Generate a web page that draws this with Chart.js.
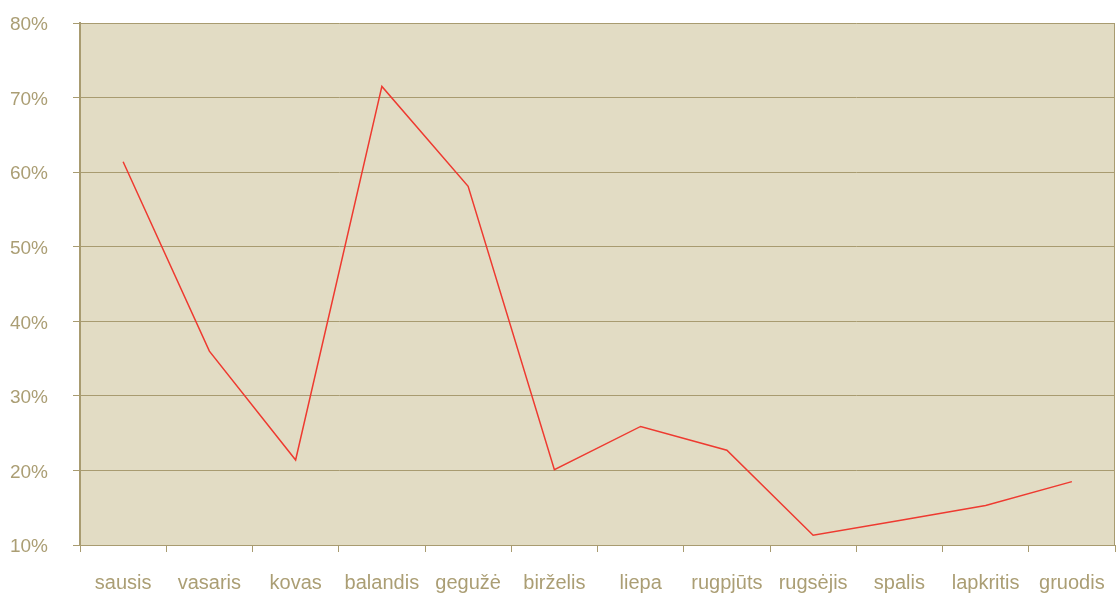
<!DOCTYPE html>
<html lang="lt">
<head>
  <meta charset="UTF-8">
  <title>Mėnesiai</title>
  <script src="https://cdn.jsdelivr.net/npm/chart.js"></script>
  <style>
    body {
      margin: 0;
      background: #ffffff;
    }
    .wrap {
      width: 1118px;
      height: 593px;
    }
  </style>
</head>
<body>
  <div class="wrap">
    <canvas id="chart" width="1118" height="593"></canvas>
  </div>

  <script>
    const months = ['sausis', 'vasaris', 'kovas', 'balandis', 'gegužė', 'birželis',
                    'liepa', 'rugpjūts', 'rugsėjis', 'spalis', 'lapkritis', 'gruodis'];
    const values = [61.4, 36.0, 21.4, 71.5, 58.1, 20.1, 25.9, 22.7, 11.3, 13.3, 15.3, 18.5];
    const yMin = 10;
    const yMax = 80;
    const yStep = 10;

    const textColor = '#ab9e74';
    const gridColor = '#a89b70';
    const plotBg = '#e2dcc4';

    // plot background + right frame
    const plotFrame = {
      id: 'plotFrame',
      beforeDraw(chart) {
        const a = chart.chartArea;
        const ctx = chart.ctx;
        ctx.save();
        ctx.fillStyle = plotBg;
        ctx.fillRect(a.left, a.top, a.right - a.left, a.bottom - a.top);
        ctx.restore();
      },
      afterDraw(chart) {
        const a = chart.chartArea;
        const ctx = chart.ctx;
        ctx.save();
        ctx.strokeStyle = gridColor;
        ctx.lineWidth = 1;
        ctx.beginPath();
        ctx.moveTo(Math.round(a.right) - 0.5, a.top);
        ctx.lineTo(Math.round(a.right) - 0.5, a.bottom);
        ctx.stroke();
        ctx.restore();
      }
    };

    new Chart(document.getElementById('chart').getContext('2d'), {
      type: 'line',
      data: {
        labels: months,
        datasets: [{
          data: values,
          borderColor: '#ee3a30',
          borderWidth: 1.5,
          pointRadius: 0,
          tension: 0,
          fill: false
        }]
      },
      options: {
        responsive: false,
        animation: false,
        layout: { padding: { top: 23, right: 3, left: 0, bottom: 0 } },
        plugins: {
          legend: { display: false },
          tooltip: { enabled: false }
        },
        scales: {
          x: {
            offset: true,
            grid: {
              offset: true,
              drawOnChartArea: false,
              drawTicks: true,
              tickLength: 7,
              color: gridColor
            },
            border: { color: gridColor },
            ticks: {
              color: textColor,
              padding: 19,
              maxRotation: 0,
              autoSkip: false,
              font: { family: 'Liberation Sans', size: 20 }
            },
            afterFit(scale) {
              scale.height = 48;
              scale.paddingLeft = 0;
              scale.paddingRight = 0;
            }
          },
          y: {
            min: yMin,
            max: yMax,
            grid: {
              color: gridColor,
              tickLength: 7,
              drawTicks: true
            },
            border: { color: gridColor, width: 2 },
            ticks: {
              stepSize: yStep,
              color: textColor,
              padding: 25,
              labelOffset: 2,
              font: { family: 'Liberation Sans', size: 19 },
              callback: v => v + '%'
            },
            afterFit(scale) {
              scale.width = 80;
              scale.paddingTop = 0;
              scale.paddingBottom = 0;
            }
          }
        }
      },
      plugins: [plotFrame]
    });
  </script>
</body>
</html>
